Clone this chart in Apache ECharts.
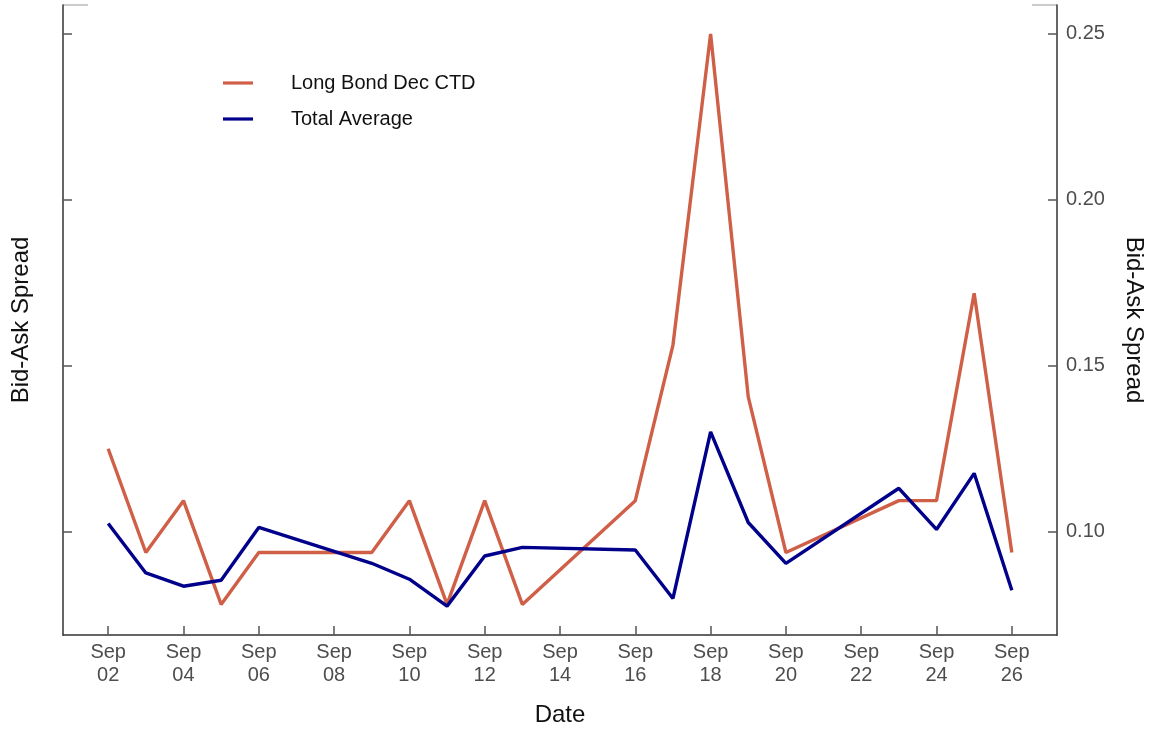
<!DOCTYPE html>
<html>
<head>
<meta charset="utf-8">
<script src="https://cdn.jsdelivr.net/npm/echarts@6/dist/echarts.min.js"></script>
<style>
html,body{margin:0;padding:0;background:#fff;}
#chart{width:1153px;height:731px;}
</style>
</head>
<body>
<div id="chart"></div>
<script>
// ---- data ----
var dates = ['2019-09-02','2019-09-03','2019-09-04','2019-09-05','2019-09-06',
             '2019-09-09','2019-09-10','2019-09-11','2019-09-12','2019-09-13',
             '2019-09-16','2019-09-17','2019-09-18','2019-09-19','2019-09-20',
             '2019-09-23','2019-09-24','2019-09-25','2019-09-26'];
var longBondDecCTD = [0.125,0.09375,0.109375,0.078125,0.09375,
                      0.09375,0.109375,0.078125,0.109375,0.078125,
                      0.109375,0.15625,0.25,0.140625,0.09375,
                      0.109375,0.109375,0.171875,0.09375];
var totalAverage = [0.1025,0.0876,0.0836,0.0854,0.1013,
                    0.0905,0.0857,0.0776,0.0927,0.0953,
                    0.0945,0.0799,0.1301,0.1028,0.0905,
                    0.1131,0.1007,0.1176,0.0824];
var xTickDates = ['2019-09-02','2019-09-04','2019-09-06','2019-09-08','2019-09-10',
                  '2019-09-12','2019-09-14','2019-09-16','2019-09-18','2019-09-20',
                  '2019-09-22','2019-09-24','2019-09-26'];
var yTicks = [0.10, 0.15, 0.20, 0.25];
var seriesNames = ['Long Bond Dec CTD', 'Total Average'];

var DAY = 86400000;
function toMs(s){ var p = s.split('-'); return Date.UTC(+p[0], +p[1]-1, +p[2]); }
var xTicks = xTickDates.map(toMs);
var xMin = toMs(dates[0]) - 1.2*DAY;
var xMax = toMs(dates[dates.length-1]) + 1.2*DAY;
var yMin = 0.0689, yMax = 0.2587;

function pad(n){ return n < 10 ? '0'+n : ''+n; }
var MONTHS = ['Jan','Feb','Mar','Apr','May','Jun','Jul','Aug','Sep','Oct','Nov','Dec'];

var FONT = '"Liberation Sans", Arial, sans-serif';
var RED = '#d05f48', BLUE = '#00008b';

var chart = echarts.init(document.getElementById('chart'), null, {renderer:'canvas'});

function yAxisBase(pos){
  return {
    type:'value', position:pos, min:yMin, max:yMax,
    splitLine:{show:false},
    axisLine:{show:true, onZero:false, lineStyle:{color:'#333', width:1.5}},
    axisTick:{show:true, inside:true, length:9, customValues:yTicks, lineStyle:{color:'#555', width:1.5}},
    axisLabel:{show: pos==='right', customValues:yTicks, margin:9, fontSize:20, color:'#4d4d4d', fontFamily:FONT,
               formatter:function(v){ return v.toFixed(2); }},
    name:'Bid-Ask Spread', nameLocation:'middle',
    nameRotate: pos==='right' ? -90 : 90,
    nameGap: pos==='right' ? 65 : 30,
    nameTextStyle:{fontSize:24, color:'#111', fontFamily:FONT}
  };
}

var option = {
  backgroundColor:'#fff',
  animation:false,
  grid:{left:63, right:96, top:5, bottom:96, outerBoundsMode:'none', containLabel:false},
  legend:{
    orient:'vertical', left:223, top:73, padding:0,
    icon:'path://M0,0H30V3.2H0Z',
    itemWidth:30, itemHeight:3.2, itemGap:16,
    textStyle:{fontSize:20, lineHeight:20, color:'#111', fontFamily:FONT, padding:[0,0,0,33]},
    data:seriesNames
  },
  xAxis:{
    type:'value', min:xMin, max:xMax,
    splitLine:{show:false},
    axisLine:{show:true, onZero:false, lineStyle:{color:'#333', width:1.5}},
    axisTick:{show:true, inside:true, length:9, customValues:xTicks, lineStyle:{color:'#555', width:1.5}},
    axisLabel:{customValues:xTicks, fontSize:20, lineHeight:23, color:'#4d4d4d', fontFamily:FONT, margin:6,
      formatter:function(v){ var d = new Date(v); return MONTHS[d.getUTCMonth()] + '\n' + pad(d.getUTCDate()); }},
    name:'Date', nameLocation:'middle', nameGap:68,
    nameTextStyle:{fontSize:24, color:'#111', fontFamily:FONT}
  },
  yAxis:[yAxisBase('left'), yAxisBase('right')],
  series:[
    {name:seriesNames[0], type:'line', yAxisIndex:0, symbol:'none', color:RED,
     lineStyle:{color:RED, width:3.4}, data:dates.map(function(d,i){ return [toMs(d), longBondDecCTD[i]]; })},
    {name:seriesNames[1], type:'line', yAxisIndex:0, symbol:'none', color:BLUE,
     lineStyle:{color:BLUE, width:3.4}, data:dates.map(function(d,i){ return [toMs(d), totalAverage[i]]; })}
  ],
  graphic:[
    {type:'line', shape:{x1:63, y1:5, x2:88, y2:5}, style:{stroke:'#bbb', lineWidth:1.5}, silent:true},
    {type:'line', shape:{x1:1032, y1:5, x2:1057, y2:5}, style:{stroke:'#bbb', lineWidth:1.5}, silent:true}
  ]
};
chart.setOption(option);
</script>
</body>
</html>
